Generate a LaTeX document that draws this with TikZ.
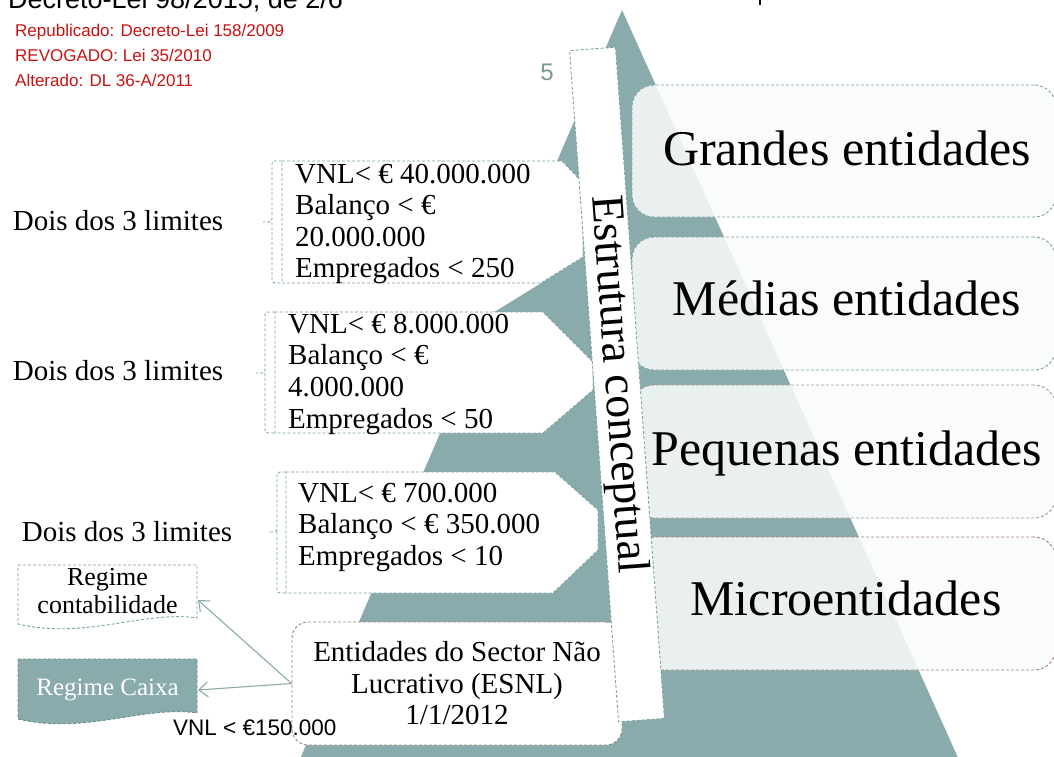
\documentclass[tikz,border=0pt]{standalone}
\usepackage{fontspec}
\setmainfont{Liberation Serif}
\newfontfamily\arialf{Liberation Sans}
\usetikzlibrary{arrows.meta}
\definecolor{pyr}{RGB}{138,171,171}
\definecolor{dteal}{RGB}{125,162,162}
\definecolor{dteal2}{RGB}{105,140,140}
\definecolor{redt}{RGB}{200,18,18}
\definecolor{tanl}{RGB}{165,160,135}
\definecolor{brl}{RGB}{160,132,120}
\definecolor{palefill}{RGB}{250,252,252}
\definecolor{fivec}{RGB}{122,150,150}
\begin{document}
\begin{tikzpicture}[x=1pt,y=-1pt,
  dsh/.style={dash pattern=on 3pt off 2pt, line width=0.9pt},
  tealdash/.style={dsh, draw=dteal},
  linetxt/.style={font=\fontsize{29}{31}\selectfont, inner sep=0pt, anchor=base west},
  bigtxt/.style={font=\fontsize{50}{55}\selectfont, inner sep=0pt, anchor=base},
  redtxt/.style={font=\arialf\fontsize{17}{20}\selectfont, text=redt, anchor=base west, inner sep=0pt},
  rbox/.style={rounded corners=22pt, fill=palefill, fill opacity=0.86, dsh, minimum width=424pt, minimum height=133pt},
  arr/.style={draw=pyr, line width=1.1pt, -{Straight Barb[length=9pt,width=15pt]}},
  regtxt/.style={font=\fontsize{26}{28}\selectfont, inner sep=0pt, anchor=base},
]
\useasboundingbox (0,0) rectangle (1054,756);
\clip (0,0) rectangle (1054,756);
\fill[white] (0,0) rectangle (1054,756);

% header
\node[font=\arialf\fontsize{27}{30}\selectfont, anchor=base west, inner sep=0pt] (title) at (8,8) {Decreto-Lei 98/2015, de 2/6};
\draw[line width=2.4pt] (760,-1) -- (760,5);
\node[redtxt] (rep) at (15,36.5) {Republicado: Decreto-Lei 158/2009};
\node[redtxt] (rev) at (15,61.5) {REVOGADO: Lei 35/2010};
\node[redtxt] (alt) at (15,86) {Alterado: DL 36-A/2011};

% pyramid
\fill[pyr] (622,10) -- (291,780) -- (968,780) -- cycle;

% right boxes
\node[rbox, draw=dteal, minimum height=132pt] (gbox) at (844,151) {};
\node[rbox, draw=dteal] (mbox) at (844,303.5) {};
\node[rbox, draw=tanl] (pbox) at (844,451.5) {};
\node[rbox, draw=brl] (ubox) at (844,603.5) {};

% left box 1
\fill[white] (282,161) -- (562,161) -- (583,183) -- (583,257) -- (495,311.5) -- (282,311.5) -- cycle;
\draw[tealdash] (282,161) -- (562,161) -- (583,183) -- (583,257) -- (541,283) -- (282,283) -- cycle;
\draw[tealdash, rounded corners=3pt] (282,161) -- (272,161) -- (272,222) -- (263,222);
\draw[tealdash, rounded corners=3pt] (272,222) -- (272,283) -- (282,283);
% left box 2
\fill[white] (275,312) -- (543,312) -- (593,362) -- (593,390) -- (543,433) -- (275,433) -- cycle;
\draw[tealdash] (275,312) -- (543,312) -- (593,362) -- (593,390) -- (543,433) -- (275,433) -- cycle;
\draw[tealdash, rounded corners=3pt] (275,312) -- (265,312) -- (265,373) -- (256,373);
\draw[tealdash, rounded corners=3pt] (265,373) -- (265,433) -- (275,433);
% left box 3
\fill[white] (286,472) -- (555,472) -- (598,510) -- (598,550) -- (553,593) -- (286,593) -- cycle;
\draw[tealdash] (286,472) -- (555,472) -- (598,510) -- (598,550) -- (553,593) -- (286,593) -- cycle;
\draw[tealdash, rounded corners=3pt] (286,472) -- (277,472) -- (277,532) -- (268,532);
\draw[tealdash, rounded corners=3pt] (277,532) -- (277,593) -- (286,593);

% box texts
\node[linetxt] (a1) at (295,183) {VNL< € 40.000.000};
\node[linetxt] (a2) at (295,214.6) {Balanço < €};
\node[linetxt] (a3) at (295,246.2) {20.000.000};
\node[linetxt] (a4) at (295,277.8) {Empregados < 250};
\node[linetxt] (b1) at (288,333) {VNL< € 8.000.000};
\node[linetxt] (b2) at (288,364.7) {Balanço < €};
\node[linetxt] (b3) at (288,396.3) {4.000.000};
\node[linetxt] (b4) at (288,428) {Empregados < 50};
\node[linetxt] (c1) at (298,502) {VNL< € 700.000};
\node[linetxt] (c2) at (298,533.5) {Balanço < € 350.000};
\node[linetxt] (c3) at (298,565) {Empregados < 10};

\node[linetxt] (d1) at (12.7,230) {Dois dos 3 limites};
\node[linetxt] (d2) at (12.7,380) {Dois dos 3 limites};
\node[linetxt] (d3) at (21.7,541) {Dois dos 3 limites};

% ESNL
\node[draw=brl, dsh, fill=white, rounded corners=16pt, minimum width=330pt, minimum height=123pt, align=center, font=\fontsize{29}{31.5}\selectfont] (esnl) at (457,683.5) {Entidades do Sector Não\\Lucrativo (ESNL)\\1/1/2012};

% regime boxes
\path[fill=white, tealdash] (18,565) -- (197,565) -- (197,618) .. controls (145,610) and (85,640) .. (18,624) -- cycle;
\node[regtxt] (rc1) at (107.5,585) {Regime};
\node[regtxt] (rc2) at (107.5,613) {contabilidade};
\coordinate (rcin) at (198,600);
\path[fill=pyr, dsh, draw=dteal2] (18,659) -- (197,659) -- (197,713) .. controls (145,705) and (85,735) .. (18,719) -- cycle;
\node[regtxt, text=white, font=\fontsize{25}{27}\selectfont] (rk) at (107.5,695) {Regime Caixa};
\coordinate (rkin) at (198,690);

\draw[arr] (esnl.west) -- (rcin);
\draw[arr] (esnl.west) -- (rkin);

\node[font=\arialf\fontsize{22.5}{25}\selectfont, anchor=base west, inner sep=0pt] (vnl) at (173,735) {VNL < €150.000};
\node[font=\arialf\fontsize{24}{26}\selectfont, text=fivec, inner sep=0pt] (five) at (547,72) {5};

% strip
\node[draw=dteal, dsh, fill=white, rotate=-85.83, minimum width=673pt, minimum height=46pt, inner sep=0pt, font=\fontsize{46}{50}\selectfont] (strip) at (617,384.5) {Estrutura conceptual};

% big labels
\node[bigtxt] (tg) at (847,165) {Grandes entidades};
\node[bigtxt] (tm) at (847,315) {Médias entidades};
\node[bigtxt] (tp) at (847,465) {Pequenas entidades};
\node[bigtxt] (tu) at (846,615) {Microentidades};
\end{tikzpicture}
\end{document}
